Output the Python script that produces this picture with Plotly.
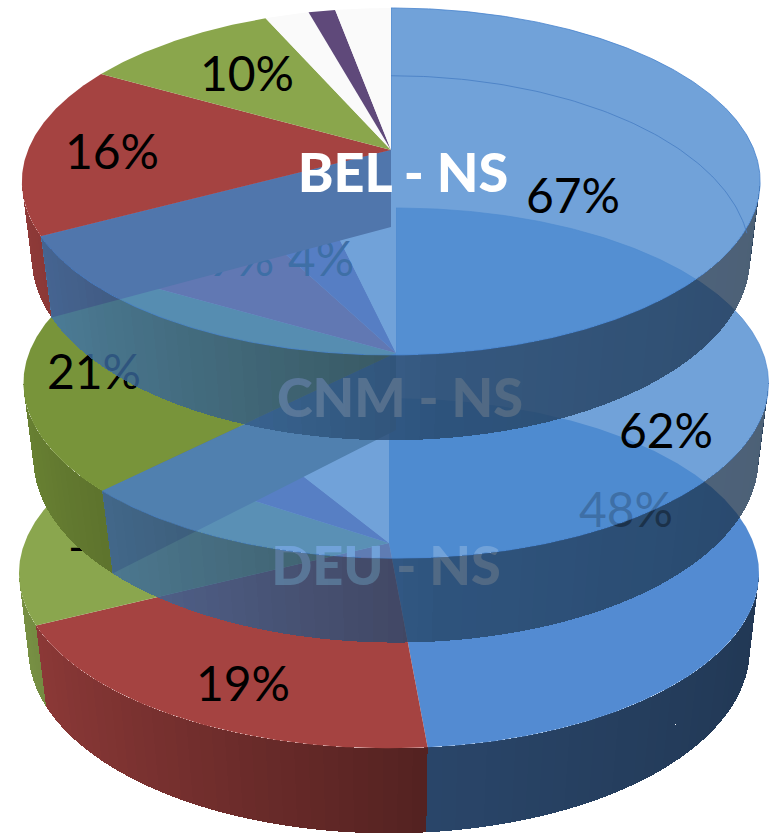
import numpy as np
import plotly.graph_objects as go

# ---- data -------------------------------------------------------------
pies = ["DEU - NS", "CNM - NS", "BEL - NS"]
deu_values = [48.6, 19.0, 16.8, 7.0, 8.6]
cnm_values = [62.4, 21.0, 9.0, 4.0, 3.6]
bel_values = [67.2, 16.0, 10.2, 2.3, 1.4, 2.9]
deu_labels = ["48%", "19%", "17%"]
cnm_labels = ["62%", "21%", "9%", "4%"]
bel_labels = ["67%", "16%", "10%"]

# ---- style and layout -------------------------------------------------
BLUE = (77, 139, 207)
DEU_BLUE = (83, 139, 210)
RED = (165, 67, 65)
WHITE = (255, 255, 255)
OFFWHITE = (250, 250, 250)
deu_colors = [DEU_BLUE, RED, (138, 166, 78), (125, 80, 150), WHITE]
cnm_colors = [BLUE, (120, 148, 58), (175, 45, 65), (120, 75, 150), WHITE]
bel_colors = [BLUE, RED, (138, 166, 76), OFFWHITE, (95, 73, 122), OFFWHITE]
deu_alpha = [1, 1, 1, 1, 1]
cnm_alpha = [.8, 1, 1, 1, 1]
bel_alpha = [.8, 1, 1, 1, 1, 1]

# projective planes of each disc: centre x, apex y, A, B, k
DEU_TOP = (389, 543, 364.5, 170, .172)
DEU_BOT = (389, 620, 356, 179, .161)
CNM_TOP = (396, 353, 367, 170, .172)
CNM_BOT = (396, 430, 358, 179, .158)
BEL_TOP = (391, 150, 363, 167.8, .1815)
BEL_BOT = (391, 227, 354, 177, .17)

deu_label_xy = [(626, 515), (243, 689), (112, 539)]
cnm_label_xy = [(666, 436), (94, 377), (241, 264), (321, 264)]
bel_label_xy = [(573, 201), (112, 157), (247, 79)]
title_xy = [(386, 571), (400, 403), (403, 178)]
title_size = 54
label_size = 48
STEP = 2.0
FONT = "Lato, Carlito, Calibri, sans-serif"

fig = go.Figure()


def project(plane, theta_deg):
    cx, ay, a, b, k = plane
    t = np.radians(np.asarray(theta_deg, float))
    u, v = np.sin(t), -np.cos(t)
    d = 1 - k * v
    return cx + a * u / d, ay + b * v / d


def rgba(c, a=1.0):
    return f"rgba({c[0]:.0f},{c[1]:.0f},{c[2]:.0f},{a})"


def poly(x, y, color, line=None, meta=None):
    fig.add_trace(go.Scatter(
        x=list(x), y=list(y), mode="lines", fill="toself", fillcolor=color,
        line=dict(width=1 if line else 0, color=line or "rgba(0,0,0,0)"),
        hoverinfo="skip", showlegend=False, meta=meta))


def shade(theta_deg):
    u = np.sin(np.radians(theta_deg))
    return float(np.interp(u, [-1, .1, 1], [.88, .5, .40]))


def draw_pie(values, colors, alphas, top, bot, neighbour_wall=None, edge=None):
    edges = np.concatenate([[0], np.cumsum(values)]) * 3.6
    k = top[4]
    lim0 = np.degrees(np.arccos(-k))
    lim1 = 360 - lim0
    # radial cut wall left open beside the first slice
    if neighbour_wall is not None:
        xt, yt = project(top, [0, edges[1]])
        xb, yb = project(bot, [0, edges[1]])
        xa, ya = top[0], top[1]
        xc, yc = bot[0], bot[1]
        poly([xa, xt[1], xb[1], xc, xa], [ya, yt[1], yb[1], yc, ya], rgba(neighbour_wall))
    # outer wall strips, banded
    for i, col in enumerate(colors):
        a0, a1 = max(edges[i], lim0), min(edges[i + 1], lim1)
        if a1 <= a0:
            continue
        n = max(1, int(np.ceil((a1 - a0) / STEP)))
        grid = np.linspace(a0, a1, n + 1)
        for t0, t1 in zip(grid[:-1], grid[1:]):
            f = shade((t0 + t1) / 2)
            xt, yt = project(top, [t0, t1])
            xb, yb = project(bot, [t0, t1])
            poly([xt[0], xt[1], xb[1], xb[0], xt[0]],
                 [yt[0], yt[1], yb[1], yb[0], yt[0]],
                 rgba([c * f for c in col], alphas[i]), meta="strip")
    # top faces
    for i, col in enumerate(colors):
        th = np.linspace(edges[i], edges[i + 1], max(3, int((edges[i + 1] - edges[i]) * 2)))
        x, y = project(top, th)
        px = np.concatenate([[top[0]], x, [top[0]]])
        py = np.concatenate([[top[1]], y, [top[1]]])
        poly(px, py, rgba(col, alphas[i]), line=edge if i == 0 else None)


def text(items, size, color="black", weight="normal"):
    xs = [p[1][0] for p in items]
    ys = [p[1][1] for p in items]
    labels = [p[0] for p in items]
    fig.add_trace(go.Scatter(
        x=xs, y=ys, text=labels, mode="text", textposition="middle center",
        textfont=dict(family=FONT, size=size, color=color, weight=weight),
        hoverinfo="skip", showlegend=False, cliponaxis=False))


# bottom disc
draw_pie(deu_values, deu_colors, deu_alpha, DEU_TOP, DEU_BOT)
text(list(zip(deu_labels, deu_label_xy)), label_size)
text([(pies[0], title_xy[0])], title_size, "white", 900)

# middle disc
draw_pie(cnm_values, cnm_colors, cnm_alpha, CNM_TOP, CNM_BOT,
         neighbour_wall=(90, 85, 45), edge="rgba(70,130,205,0.6)")
text(list(zip(cnm_labels, cnm_label_xy)), label_size)
text([(pies[1], title_xy[1])], title_size, "white", 900)

# top disc, with the far rim seen through the translucent slice
draw_pie(bel_values, bel_colors, bel_alpha, BEL_TOP, BEL_BOT,
         neighbour_wall=(90, 35, 30), edge="rgba(70,130,205,0.8)")
rim = np.linspace(0, 92, 90)
rx, ry = project(BEL_BOT, rim)
fig.add_trace(go.Scatter(x=rx, y=ry, mode="lines", hoverinfo="skip", showlegend=False,
                         line=dict(width=1, color="rgba(70,125,195,0.8)")))
text(list(zip(bel_labels, bel_label_xy)), label_size)
text([(pies[2], title_xy[2])], title_size, "white", 900)

fig.update_layout(
    width=775, height=834, margin=dict(l=0, r=0, t=0, b=0),
    paper_bgcolor="white", plot_bgcolor="white", showlegend=False,
    xaxis=dict(range=[0, 775], visible=False, fixedrange=True),
    yaxis=dict(range=[834, 0], visible=False, fixedrange=True),
)
# wall strips butt against each other: no anti-aliased seams between them
POST = """
document.body.style.margin='0';document.body.style.overflow='hidden';
(function(){
  var gd=document.querySelector('.plotly-graph-div');
  function crisp(){
    var tr=gd.querySelectorAll('.scatterlayer .trace');
    tr.forEach(function(t,i){
      if(gd.data[i] && gd.data[i].meta==='strip'){
        t.querySelectorAll('path').forEach(function(p){p.style.shapeRendering='crispEdges';});
      }
    });
  }
  crisp();setTimeout(crisp,50);
})();
"""
fig.write_html("out.html", config={"displayModeBar": False}, post_script=POST)
